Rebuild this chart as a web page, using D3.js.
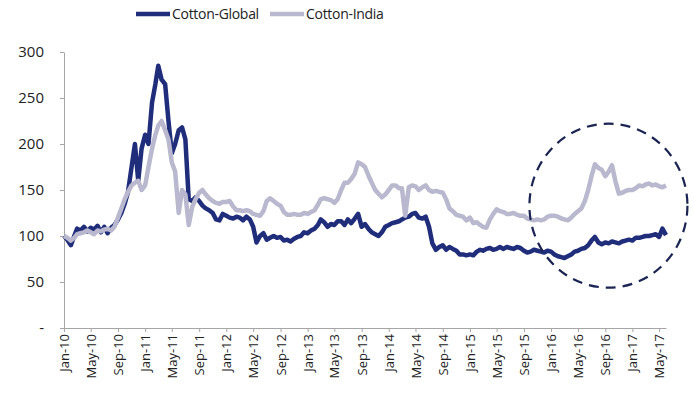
<!DOCTYPE html>
<html>
<head>
<meta charset="utf-8">
<script src="https://cdn.jsdelivr.net/npm/d3@7"></script>
<style>
    body { margin: 0; background: #fff; }
    svg text { font-family: "Open Sans", "Noto Sans", sans-serif; fill: #222; }
    .axis path, .axis line { stroke: #a6a6a6; }
</style>
</head>
<body>
<div class="cottonChart"></div>
<script>
// half-monthly observations (1st and 16th), index Jan-2010 = 100
const dates = [
    "2010-01-01","2010-01-16","2010-02-01","2010-02-16","2010-03-01","2010-03-16","2010-04-01","2010-04-16","2010-05-01","2010-05-16","2010-06-01","2010-06-16",
    "2010-07-01","2010-07-16","2010-08-01","2010-08-16","2010-09-01","2010-09-16","2010-10-01","2010-10-16","2010-11-01","2010-11-16","2010-12-01","2010-12-16",
    "2011-01-01","2011-01-16","2011-02-01","2011-02-16","2011-03-01","2011-03-16","2011-04-01","2011-04-16","2011-05-01","2011-05-16","2011-06-01","2011-06-16",
    "2011-07-01","2011-07-16","2011-08-01","2011-08-16","2011-09-01","2011-09-16","2011-10-01","2011-10-16","2011-11-01","2011-11-16","2011-12-01","2011-12-16",
    "2012-01-01","2012-01-16","2012-02-01","2012-02-16","2012-03-01","2012-03-16","2012-04-01","2012-04-16","2012-05-01","2012-05-16","2012-06-01","2012-06-16",
    "2012-07-01","2012-07-16","2012-08-01","2012-08-16","2012-09-01","2012-09-16","2012-10-01","2012-10-16","2012-11-01","2012-11-16","2012-12-01","2012-12-16",
    "2013-01-01","2013-01-16","2013-02-01","2013-02-16","2013-03-01","2013-03-16","2013-04-01","2013-04-16","2013-05-01","2013-05-16","2013-06-01","2013-06-16",
    "2013-07-01","2013-07-16","2013-08-01","2013-08-16","2013-09-01","2013-09-16","2013-10-01","2013-10-16","2013-11-01","2013-11-16","2013-12-01","2013-12-16",
    "2014-01-01","2014-01-16","2014-02-01","2014-02-16","2014-03-01","2014-03-16","2014-04-01","2014-04-16","2014-05-01","2014-05-16","2014-06-01","2014-06-16",
    "2014-07-01","2014-07-16","2014-08-01","2014-08-16","2014-09-01","2014-09-16","2014-10-01","2014-10-16","2014-11-01","2014-11-16","2014-12-01","2014-12-16",
    "2015-01-01","2015-01-16","2015-02-01","2015-02-16","2015-03-01","2015-03-16","2015-04-01","2015-04-16","2015-05-01","2015-05-16","2015-06-01","2015-06-16",
    "2015-07-01","2015-07-16","2015-08-01","2015-08-16","2015-09-01","2015-09-16","2015-10-01","2015-10-16","2015-11-01","2015-11-16","2015-12-01","2015-12-16",
    "2016-01-01","2016-01-16","2016-02-01","2016-02-16","2016-03-01","2016-03-16","2016-04-01","2016-04-16","2016-05-01","2016-05-16","2016-06-01","2016-06-16",
    "2016-07-01","2016-07-16","2016-08-01","2016-08-16","2016-09-01","2016-09-16","2016-10-01","2016-10-16","2016-11-01","2016-11-16","2016-12-01","2016-12-16",
    "2017-01-01","2017-01-16","2017-02-01","2017-02-16","2017-03-01","2017-03-16","2017-04-01","2017-04-16","2017-05-01","2017-05-16","2017-06-01"
];

const cottonGlobal = [
    100,96,90,100,108,106,110,105,109,107,111,104,110,103,109,112,118,125,135,148,175,200,160,195,
    210,200,245,265,285,270,265,225,190,200,215,218,205,140,138,142,138,133,130,128,125,118,117,124,
    122,120,119,121,120,117,121,118,110,93,100,103,96,98,100,98,99,95,96,94,97,99,100,104,
    103,106,108,112,118,115,110,113,112,116,116,112,118,114,119,124,110,113,108,104,102,100,104,110,
    112,114,115,116,118,120,121,124,125,120,119,121,110,92,85,88,90,85,88,86,84,80,80,79,
    80,79,83,85,84,86,87,85,86,88,86,88,87,86,88,87,84,82,83,85,84,83,82,84,
    83,80,78,77,76,78,80,83,84,86,87,90,95,99,93,91,93,92,94,93,92,94,95,96,
    95,98,98,99,100,100,101,102,99,108,101
];

const cottonIndia = [
    100,98,95,98,102,103,104,106,104,102,106,105,107,108,106,110,120,130,140,148,155,158,160,150,
    155,175,195,210,220,225,215,205,180,170,125,150,145,112,132,140,147,150,145,141,138,136,135,137,
    137,138,132,128,128,127,128,127,124,123,122,127,138,141,138,135,133,126,123,123,124,123,123,125,
    124,126,128,134,140,141,140,139,136,140,150,158,158,162,168,180,178,175,166,158,150,146,142,145,
    150,155,155,152,152,122,153,155,154,150,153,155,150,148,149,148,147,140,130,127,123,122,121,117,
    120,114,115,112,110,109,118,124,129,127,126,124,124,125,123,122,122,119,118,117,118,117,118,121,
    122,122,121,119,118,117,120,124,127,130,138,150,165,178,174,172,165,170,177,160,146,147,149,150,
    150,152,155,154,156,157,155,156,154,153,155
];

const seriesNames = ["Cotton-Global", "Cotton-India"];
const seriesColours = ["#1f2d7b", "#b9b8cf"];
const yTicks = [0, 50, 100, 150, 200, 250, 300];

// highlighted period (dashed ellipse)
const highlightCentre = { date: "2016-09-15", value: 133 };

const width = 692, height = 402;
const margin = { top: 52, right: 26, bottom: 74, left: 64 };

const parse = d3.timeParse("%Y-%m-%d");
const fmt = d3.timeFormat("%b-%y");

let svg = d3.select(".cottonChart").append("svg")
    .attr("width", width)
    .attr("height", height);

let x = d3.scaleTime()
    .domain([parse("2010-01-01"), parse("2017-06-01")])
    .range([margin.left, width - margin.right]);

let y = d3.scaleLinear()
    .domain([0, 300])
    .range([height - margin.bottom, margin.top]);

// y axis
let yAxis = svg.append("g")
    .attr("class", "axis")
    .attr("transform", "translate(" + margin.left + ",0)")
    .call(d3.axisLeft(y).tickValues(yTicks).tickSize(4).tickSizeOuter(0)
        .tickFormat(d => d === 0 ? "-" : d));
yAxis.selectAll("text")
    .attr("x", -20)
    .style("font-size", "15px");

// x axis
let xAxis = svg.append("g")
    .attr("class", "axis")
    .attr("transform", "translate(0," + y(0) + ")")
    .call(d3.axisBottom(x).ticks(d3.timeMonth.every(4)).tickSize(4).tickSizeOuter(0)
        .tickFormat(fmt));
xAxis.selectAll("text")
    .attr("transform", "rotate(-90)")
    .attr("text-anchor", "end")
    .attr("x", -6)
    .attr("y", 0)
    .attr("dy", "0.35em")
    .style("font-size", "13px");

// lines
let line = d3.line()
    .x((d, i) => x(parse(dates[i])))
    .y(d => y(d));

[cottonGlobal, cottonIndia].forEach((values, i) => {
    svg.append("path")
        .datum(values)
        .attr("fill", "none")
        .attr("stroke", seriesColours[i])
        .attr("stroke-width", 4.5)
        .attr("stroke-linejoin", "round")
        .attr("d", line);
});

// dashed ellipse annotation
svg.append("ellipse")
    .attr("cx", x(parse(highlightCentre.date)))
    .attr("cy", y(highlightCentre.value))
    .attr("rx", 79)
    .attr("ry", 82)
    .attr("fill", "none")
    .attr("stroke", "#1b2452")
    .attr("stroke-width", 2.2)
    .attr("stroke-dasharray", "10,7");

// legend
let legend = svg.append("g").attr("transform", "translate(136,14)");
let legendX = [0, 134];
seriesNames.forEach((name, i) => {
    legend.append("line")
        .attr("x1", legendX[i]).attr("x2", legendX[i] + 34)
        .attr("y1", 0).attr("y2", 0)
        .attr("stroke", seriesColours[i])
        .attr("stroke-width", 4.5);
    legend.append("text")
        .attr("x", legendX[i] + 36)
        .attr("y", 0)
        .attr("dy", "0.35em")
        .style("font-size", "14px")
        .style("letter-spacing", "-0.3px")
        .text(name);
});
</script>
</body>
</html>
